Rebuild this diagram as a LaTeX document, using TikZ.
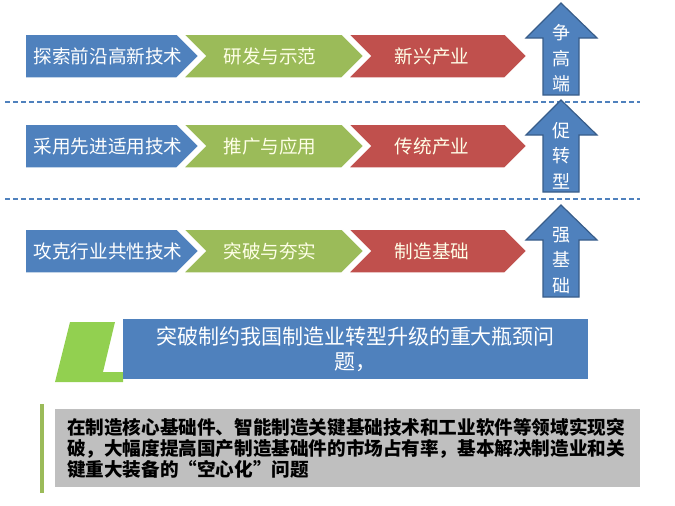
\documentclass[tikz,border=0pt]{standalone}
\usepackage{fontspec}
\setmainfont{Noto Sans CJK SC}
\usetikzlibrary{positioning}
\definecolor{office-blue}{RGB}{79,129,189}
\definecolor{office-green}{RGB}{155,187,89}
\definecolor{office-red}{RGB}{192,80,77}
\definecolor{arrow-border}{RGB}{56,93,138}
\definecolor{lime-green}{RGB}{146,208,80}
\definecolor{panel-gray}{RGB}{191,191,191}
\definecolor{cream}{RGB}{255,255,232}

\begin{document}
\begin{tikzpicture}
    [x=1pt, y=-1pt,
    node distance=162pt,
    on grid,
    chevron/.style={draw=white, line width=1.5pt, line join=miter},
    tech/.style={chevron, fill=office-blue},
    stage/.style={chevron, fill=office-green},
    industry/.style={chevron, fill=office-red},
    chevron text/.style={text=white, inner sep=0pt, font=\fontsize{18.6}{22}\selectfont},
    up arrow/.style={fill=office-blue, draw=arrow-border, line width=1.2pt, line join=miter},
    up text/.style={text=white, align=center, inner sep=0pt, font=\fontsize{18}{25.5}\selectfont},
    separator/.style={draw=office-blue, line width=1.5pt, dash pattern=on 5pt off 3pt}]

    \useasboundingbox (0,0) rectangle (675,506);

    % dashed separators between the rows
    \coordinate (sep1 west) at (5,102);
    \coordinate (sep1 east) at (640,102);
    \coordinate (sep2 west) at (5,199);
    \coordinate (sep2 east) at (640,199);
    \draw [separator] (sep1 west) -- (sep1 east);
    \draw [separator] (sep2 west) -- (sep2 east);

    \foreach \n/\yt/\ut/\techtext/\stagetext/\indtext/\uptext in
      {1/34/3/探索前沿高新技术/研发与示范/新兴产业/争\\高\\端,
       2/124/100/采用先进适用技术/推广与应用/传统产业/促\\转\\型,
       3/229/205/攻克行业共性技术/突破与夯实/制造基础/强\\基\\础}
    {
      \path [tech] (25,\yt) -- (177,\yt) -- (199,{\yt+22}) -- (177,{\yt+44}) -- (25,{\yt+44}) -- cycle;
      \path [stage] (183,\yt) -- (342,\yt) -- (364,{\yt+22}) -- (342,{\yt+44}) -- (183,{\yt+44}) -- (205,{\yt+22}) -- cycle;
      \path [industry] (348,\yt) -- (505,\yt) -- (527,{\yt+22}) -- (505,{\yt+44}) -- (348,{\yt+44}) -- (370,{\yt+22}) -- cycle;
      \node [chevron text] (tech\n) at (108,{\yt+22}) {\techtext};
      \node [chevron text, text=cream] (stage\n) [right=of tech\n] {\stagetext};
      \node [chevron text, text=cream] (industry\n) [right=of stage\n] {\indtext};

      \path [up arrow] (543,{\ut+92}) -- (543,{\ut+35}) -- (526,{\ut+35}) -- (561,\ut)
        -- (597,{\ut+35}) -- (579,{\ut+35}) -- (579,{\ut+92}) -- cycle;
      \node [up text] (goal\n) at (561,{\ut+55.5}) {\uptext};
    }

    % bottleneck banner
    \fill [lime-green] (70,322) -- (115,322) -- (103,372) -- (123,372) -- (123,382) -- (55,382) -- cycle;
    \node [fill=office-blue, text=white, align=center, minimum width=465pt, minimum height=60pt,
      font=\fontsize{21}{25}\selectfont] (bottleneck) at (355.5,349)
      {突破制约我国制造业转型升级的重大瓶颈问\\题，};

    % goal panel
    \fill [office-green] (40,404) rectangle (44,493);
    \node [fill=panel-gray, text=black, align=left, text width=561pt, inner xsep=12pt,
      minimum height=78pt, font=\bfseries\fontsize{18.6}{21}\selectfont] (goal panel) at (347.5,448)
      {在制造核心基础件、智能制造关键基础技术和工业软件等领域实现突\\
       破，大幅度提高国产制造基础件的市场占有率，基本解决制造业和关\\
       键重大装备的“空心化”问题};
\end{tikzpicture}
\end{document}
